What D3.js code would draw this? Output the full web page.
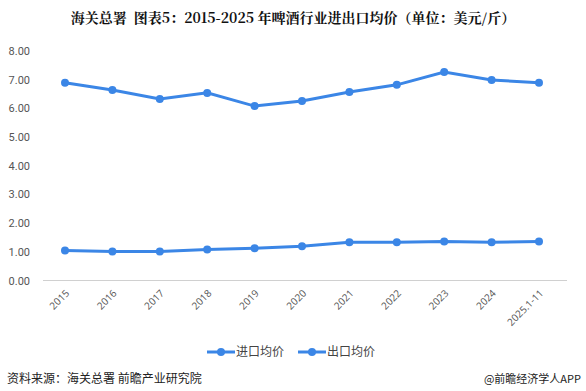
<!DOCTYPE html>
<html>
<head>
<meta charset="utf-8">
<script src="https://cdn.jsdelivr.net/npm/d3@7.9.0/dist/d3.min.js"></script>
<style>
  body { margin: 0; background: #fff; }
  svg { display: block; font-family: "Noto Sans CJK SC", "Microsoft YaHei", sans-serif; }
</style>
</head>
<body>
<div id="chart"></div>
<script>
const years = ['2015', '2016', '2017', '2018', '2019', '2020', '2021', '2022', '2023', '2024', '2025.1-11'];
const importPrice = [6.89, 6.64, 6.33, 6.54, 6.08, 6.26, 6.57, 6.82, 7.27, 6.99, 6.89];
const exportPrice = [1.05, 1.01, 1.01, 1.08, 1.12, 1.19, 1.33, 1.33, 1.36, 1.33, 1.36];
const yTicks = [0, 1, 2, 3, 4, 5, 6, 7, 8];
const seriesNames = ['进口均价', '出口均价'];

const width = 586, height = 391;
const color = '#3b86e6';

const svg = d3.select('#chart').append('svg')
  .attr('width', width)
  .attr('height', height);

// title
svg.append('text')
  .attr('x', 293).attr('y', 23)
  .attr('text-anchor', 'middle')
  .attr('font-size', 14)
  .attr('font-weight', 'bold')
  .attr('font-family', '"Noto Serif CJK SC", "Noto Sans CJK SC", serif')
  .attr('fill', '#111')
  .style('white-space', 'pre')
  .text('海关总署  图表5：2015-2025 年啤酒行业进出口均价（单位：美元/斤）');

const xScale = d3.scalePoint()
  .domain(years)
  .range([65, 539]);

const yScale = d3.scaleLinear()
  .domain([0, 8])
  .range([280.5, 51]);

// y labels (no axis line)
const yAxis = svg.append('g')
  .attr('transform', 'translate(30,0)')
  .call(d3.axisLeft(yScale).tickValues(yTicks).tickFormat(d3.format('.2f')).tickSize(0));
yAxis.select('.domain').remove();
yAxis.selectAll('text')
  .attr('font-family', 'Roboto, "Noto Sans", sans-serif')
  .attr('font-size', 11)
  .attr('fill', '#555')
  .attr('text-anchor', 'end')
  .attr('x', 0);

// baseline
svg.append('line')
  .attr('x1', 43).attr('x2', 567)
  .attr('y1', yScale(0)).attr('y2', yScale(0))
  .attr('stroke', '#d0d0d0')
  .attr('stroke-width', 1);

// x labels
const xAxis = svg.append('g')
  .attr('transform', `translate(0,${yScale(0)})`)
  .call(d3.axisBottom(xScale).tickSize(0));
xAxis.select('.domain').remove();
xAxis.selectAll('text')
  .attr('font-family', '"Open Sans", "Noto Sans", sans-serif')
  .attr('font-size', 10)
  .attr('fill', '#555')
  .attr('text-anchor', 'end')
  .attr('transform', 'translate(2,11) rotate(-45)')
  .attr('dy', '0.35em')
  .attr('y', 0);

const line = d3.line()
  .x((d, i) => xScale(years[i]))
  .y(d => yScale(d));

[importPrice, exportPrice].forEach(values => {
  svg.append('path')
    .datum(values)
    .attr('d', line)
    .attr('fill', 'none')
    .attr('stroke', color)
    .attr('stroke-width', 3);
  svg.append('g').selectAll('circle')
    .data(values)
    .join('circle')
    .attr('cx', (d, i) => xScale(years[i]))
    .attr('cy', d => yScale(d))
    .attr('r', 4)
    .attr('fill', color);
});

// legend
const legend = svg.append('g').attr('transform', 'translate(207,352)');
seriesNames.forEach((name, i) => {
  const g = legend.append('g').attr('transform', `translate(${i * 91},0)`);
  g.append('line')
    .attr('x1', 0).attr('x2', 28)
    .attr('stroke', color).attr('stroke-width', 3);
  g.append('circle').attr('cx', 14).attr('r', 4).attr('fill', color);
  g.append('text')
    .attr('x', 29).attr('y', 0)
    .attr('dy', '0.35em')
    .attr('font-size', 12)
    .attr('fill', '#444')
    .text(name);
});

// footer
svg.append('text')
  .attr('x', 7).attr('y', 383)
  .attr('font-size', 12)
  .attr('fill', '#222')
  .text('资料来源：海关总署 前瞻产业研究院');

svg.append('text')
  .attr('x', 581).attr('y', 383)
  .attr('text-anchor', 'end')
  .attr('font-size', 11)
  .attr('fill', '#222')
  .text('@前瞻经济学人APP');
</script>
</body>
</html>
